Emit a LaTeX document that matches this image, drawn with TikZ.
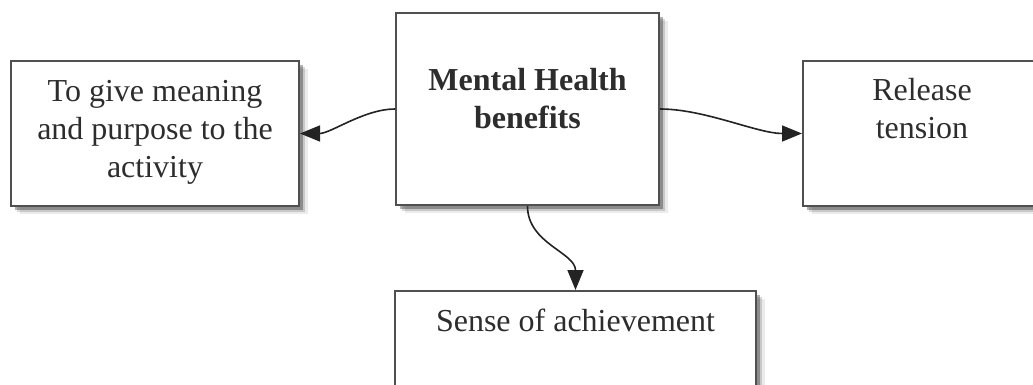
\documentclass[tikz,border=0pt]{standalone}
\usepackage{fontspec}
\setmainfont{Liberation Serif}
\usetikzlibrary{arrows.meta,shadows,positioning}
\definecolor{boxline}{RGB}{80,80,80}
\definecolor{arrowline}{RGB}{35,35,35}
\definecolor{textgray}{RGB}{45,45,45}

\begin{document}
\begin{tikzpicture}[x=0.5pt, y=-0.5pt, font=\fontsize{16}{19}\selectfont,
    benefitbox/.style={rectangle, draw=boxline, fill=white, line width=1pt, anchor=north west, inner sep=0pt,
      drop shadow={shadow xshift=4.5pt, shadow yshift=-4pt, fill=black, opacity=0.08},
      drop shadow={shadow xshift=3.2pt, shadow yshift=-3pt, fill=black, opacity=0.15},
      drop shadow={shadow xshift=2pt, shadow yshift=-2pt, fill=black, opacity=0.3}},
    boxtext/.style={align=center, inner sep=0pt, text=textgray},
    flow/.style={-{Triangle[length=10pt, width=8pt]}, arrowline, line width=0.8pt}]
  \path[use as bounding box, clip] (0,0) rectangle (1033,385);

  \node[benefitbox, minimum width=131.5pt, minimum height=96pt] (mental) at (395,12) {};
  \node[benefitbox, minimum width=144pt, minimum height=72.5pt] (meaning) at (10,60) {};
  \node[benefitbox, minimum width=119pt, minimum height=72.5pt] (release) at (802,60) {};
  \node[benefitbox, minimum width=180.5pt, minimum height=55pt] (achieve) at (394,290) {};

  \node[boxtext, font=\fontsize{16}{19}\selectfont\bfseries, below=28pt of mental.north] (mentaltext) {Mental Health\\benefits};
  \node[boxtext, below=10pt of meaning.north] (meaningtext) {To give meaning\\and purpose to the\\activity};
  \node[boxtext, below=9pt of release.north] (releasetext) {Release\\tension};
  \node[boxtext, below=9.5pt of achieve.north] (achievetext) {Sense of achievement};

  \draw[flow] (mental.west) to[out=180, in=0, looseness=0.8] (meaning.east);
  \draw[flow] (mental.east) to[out=0, in=180, looseness=0.8] (release.west);
  \draw[flow] (mental.south) to[out=-90, in=90] (achieve.north);
\end{tikzpicture}
\end{document}
